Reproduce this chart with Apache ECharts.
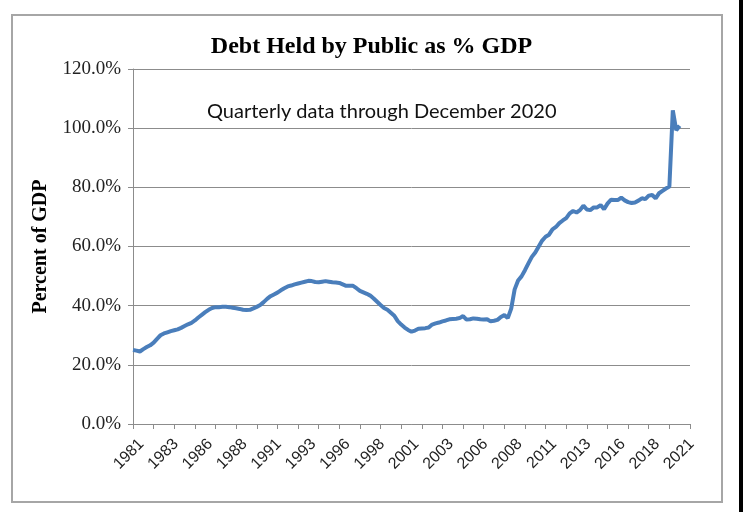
<!DOCTYPE html>
<html>
<head>
<meta charset="utf-8">
<script src="https://cdn.jsdelivr.net/npm/echarts@6/dist/echarts.min.js"></script>
<style>
  html, body { margin: 0; padding: 0; background: #fff; }
  #chart { width: 743px; height: 512px; }
</style>
</head>
<body>
<div id="chart"></div>
<script>
// quarterly series, 1981 Q1 .. 2020 Q4
var debtPct = [
    25.0, 24.8, 24.5, 25.3, 26.0, 26.6, 27.5, 28.8, 30.0, 30.6,
    31.0, 31.4, 31.7, 32.0, 32.5, 33.1, 33.7, 34.2, 35.0, 36.0,
    36.9, 37.8, 38.6, 39.2, 39.5, 39.5, 39.6, 39.6, 39.5, 39.3,
    39.1, 38.9, 38.6, 38.5, 38.6, 39.1, 39.6, 40.2, 41.2, 42.3,
    43.2, 43.8, 44.4, 45.2, 45.9, 46.5, 46.8, 47.2, 47.5, 47.8,
    48.1, 48.4, 48.3, 48.0, 47.9, 48.1, 48.3, 48.1, 47.9, 47.8,
    47.7, 47.2, 46.7, 46.7, 46.7, 45.9, 45.0, 44.5, 44.0, 43.4,
    42.4, 41.3, 40.2, 39.2, 38.6, 37.6, 36.6, 34.8, 33.6, 32.6,
    31.8, 31.2, 31.6, 32.2, 32.3, 32.4, 32.6, 33.6, 34.0, 34.3,
    34.7, 35.0, 35.4, 35.5, 35.6, 35.8, 36.5, 35.3, 35.4, 35.7,
    35.6, 35.4, 35.3, 35.4, 34.7, 34.9, 35.2, 36.2, 36.8, 35.8,
    39.0, 45.5, 48.5, 49.9, 52.0, 54.3, 56.5, 58.0, 60.0, 62.0,
    63.3, 64.0, 65.8, 66.6, 67.9, 68.8, 69.6, 71.2, 72.0, 71.5,
    72.3, 73.8, 72.5, 72.3, 73.2, 73.2, 74.0, 72.6, 74.5, 75.8,
    75.7, 75.7, 76.5, 75.6, 75.0, 74.7, 74.9, 75.5, 76.3, 76.0,
    77.2, 77.4, 76.3, 78.0, 78.8, 79.6, 80.3, 106.0, 99.3, 100.8
];

// axis runs a few quarters past the data (to 2021 Q3)
var startYear = 1981;
var axisQuarters = 163;
var quarters = [];
for (var q = 0; q < axisQuarters; q++) {
    quarters.push(String(startYear + Math.floor(q / 4)));
}

var yTicks = [0, 20, 40, 60, 80, 100, 120];

var gray = '#8c8c8c';
var myChart = echarts.init(document.getElementById('chart'));
myChart.setOption({
    animation: false,
    backgroundColor: '#fff',
    title: {
        text: 'Debt Held by Public as % GDP',
        left: 'center',
        top: 30,
        textStyle: {
            fontFamily: 'Liberation Serif',
            fontWeight: 'bold',
            fontSize: 24,
            color: '#000'
        }
    },
    grid: {
        left: 133,
        right: 53,
        top: 69,
        bottom: 88
    },
    xAxis: {
        type: 'category',
        boundaryGap: false,
        data: quarters,
        axisLine: {lineStyle: {color: gray, width: 1}},
        axisTick: {show: true, interval: 5, length: 5, lineStyle: {color: gray}},
        axisLabel: {
            interval: 9,
            rotate: 45,
            margin: 9,
            verticalAlign: 'top',
            padding: [4, 0, 0, 0],
            fontFamily: 'Liberation Sans',
            fontSize: 16,
            color: '#222'
        },
        splitLine: {show: false}
    },
    yAxis: {
        type: 'value',
        min: yTicks[0],
        max: yTicks[yTicks.length - 1],
        interval: 20,
        name: 'Percent of GDP',
        nameLocation: 'middle',
        nameGap: 82,
        nameTextStyle: {
            fontFamily: 'Liberation Serif',
            fontWeight: 'bold',
            fontSize: 20,
            color: '#000'
        },
        axisLine: {show: true, lineStyle: {color: gray, width: 1}},
        axisTick: {show: true, length: 5, lineStyle: {color: gray}},
        axisLabel: {
            margin: 12,
            fontFamily: 'Liberation Serif',
            fontSize: 19,
            color: '#222',
            formatter: function (v) {
                return v.toFixed(1) + '%';
            }
        },
        splitLine: {show: true, lineStyle: {color: gray, width: 1}}
    },
    graphic: [
        {
            type: 'rect',
            shape: {x: 12, y: 15, width: 710, height: 487},
            style: {fill: 'none', stroke: '#a6a6a6', lineWidth: 2},
            silent: true
        },
        {
            type: 'rect',
            shape: {x: 739, y: 0, width: 4, height: 512},
            style: {fill: '#000'},
            silent: true
        },
        {
            type: 'text',
            left: 207,
            top: 102,
            style: {
                text: 'Quarterly data through December 2020',
                fontFamily: 'Lato',
                fontSize: 20,
                fill: '#111'
            },
            silent: true
        }
    ],
    series: [
        {
            name: 'Debt held by public',
            type: 'line',
            data: debtPct,
            showSymbol: false,
            lineStyle: {color: '#4a7ebb', width: 4},
            itemStyle: {color: '#4a7ebb'}
        }
    ]
});
</script>
</body>
</html>
